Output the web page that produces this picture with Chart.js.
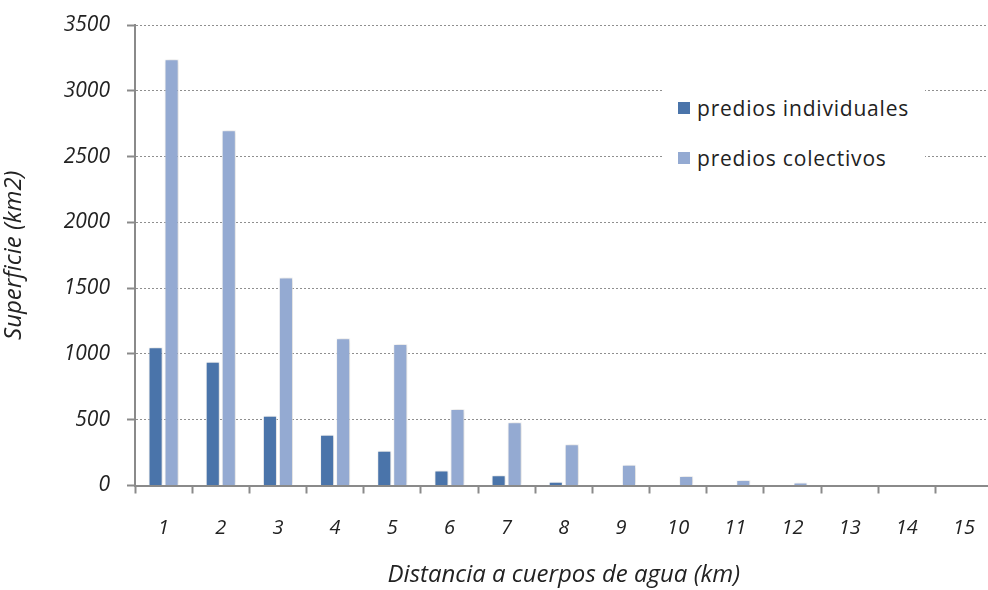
<!DOCTYPE html>
<html>
<head>
<meta charset="utf-8">
<script src="https://cdn.jsdelivr.net/npm/chart.js@4"></script>
<style>
    html, body { margin: 0; padding: 0; background: #fff; overflow: hidden; }
    #wrap { position: relative; width: 998px; height: 590px; }
    #legend {
        position: absolute; left: 663px; top: 84px; width: 262px; height: 102px;
        background: #fff; font-family: 'Open Sans', sans-serif; font-size: 21px; letter-spacing: 0.8px; color: #222;
    }
    .item { position: absolute; left: 15px; display: flex; align-items: center; white-space: nowrap; }
    .sw { width: 12px; height: 12px; margin-right: 7px; }
</style>
</head>
<body>
<div id="wrap">
    <canvas id="chart" width="998" height="590"></canvas>
    <div id="legend">
        <div class="item" style="top: 10px;"><span class="sw" style="background:#4a74aa"></span>predios individuales</div>
        <div class="item" style="top: 60px;"><span class="sw" style="background:#94aad2"></span>predios colectivos</div>
    </div>
</div>
<script>
// Distancia a cuerpos de agua (km) vs Superficie (km2)
const categories = ['1', '2', '3', '4', '5', '6', '7', '8', '9', '10', '11', '12', '13', '14', '15'];
const prediosIndividuales = [1050, 940, 530, 385, 265, 114, 78, 28, 0, 0, 0, 0, 0, 0, 0];
const prediosColectivos = [3240, 2700, 1580, 1120, 1075, 582, 481, 314, 158, 73, 42, 22, 3, 0, 0];
const yTicks = [0, 500, 1000, 1500, 2000, 2500, 3000, 3500];

const COLORS = {
    individual: '#4a74aa',
    colectivo: '#94aad2',
    axis: '#8a8a8a',
    grid: '#8f8f8f',
    text: '#222',
};

const FONT = "'Open Sans', sans-serif";

// soft shadow round the bars, as in the original
const barShadow = {
    id: 'barShadow',
    beforeDatasetsDraw(chart) {
        const c = chart.ctx;
        c.save();
        c.shadowColor = 'rgba(0, 0, 0, 0.18)';
        c.shadowBlur = 4;
        c.shadowOffsetX = 1;
        c.shadowOffsetY = 0;
    },
    afterDatasetsDraw(chart) {
        chart.ctx.restore();
    }
};

new Chart(document.getElementById('chart'), {
    type: 'bar',
    data: {
        labels: categories,
        datasets: [
            {
                label: 'predios individuales',
                data: prediosIndividuales,
                backgroundColor: COLORS.individual,
                borderColor: 'rgba(255,255,255,0.7)',
                borderWidth: 1,
                categoryPercentage: 0.56,
                barPercentage: 0.88,
            },
            {
                label: 'predios colectivos',
                data: prediosColectivos,
                backgroundColor: COLORS.colectivo,
                borderColor: 'rgba(255,255,255,0.7)',
                borderWidth: 1,
                categoryPercentage: 0.56,
                barPercentage: 0.88,
            }
        ]
    },
    plugins: [barShadow],
    options: {
        responsive: false,
        animation: false,
        layout: { padding: { top: 25, right: 0, left: 0, bottom: 0 } },
        plugins: {
            legend: { display: false },
            tooltip: { enabled: false },
        },
        scales: {
            x: {
                offset: true,
                grid: {
                    offset: true,
                    drawOnChartArea: false,
                    drawTicks: true,
                    tickLength: 8,
                    tickColor: COLORS.axis,
                    tickWidth: 2,
                },
                border: { color: COLORS.axis, width: 2 },
                ticks: {
                    padding: 23,
                    color: COLORS.text,
                    font: { family: FONT, size: 20, style: 'italic' },
                    maxRotation: 0,
                },
                title: {
                    display: true,
                    text: 'Distancia a cuerpos de agua (km)',
                    color: COLORS.text,
                    font: { family: FONT, size: 24, style: 'italic' },
                    padding: { top: 8, bottom: 0 },
                },
                afterFit: scale => { scale.height = 104.5; },
            },
            y: {
                min: 0,
                max: 3500,
                afterBuildTicks: scale => { scale.ticks = yTicks.map(v => ({ value: v })); },
                grid: {
                    color: COLORS.grid,
                    lineWidth: 1,
                    tickLength: 8,
                    tickColor: COLORS.axis,
                    tickWidth: 2,
                    tickBorderDash: [],
                },
                border: { color: COLORS.axis, width: 2, dash: [2, 2] },
                ticks: {
                    padding: 17,
                    color: COLORS.text,
                    font: { family: FONT, size: 21, style: 'italic' },
                    callback: v => String(v),
                },
                title: {
                    display: true,
                    text: 'Superficie (km2)',
                    color: COLORS.text,
                    font: { family: FONT, size: 24, style: 'italic' },
                    padding: { top: 0, bottom: 0 },
                },
                afterFit: scale => {
                    scale.width = 135;
                    // the tick padding should not push the plot down
                    scale.paddingTop = 13;
                    scale.paddingBottom = 13;
                },
            }
        }
    }
});
</script>
</body>
</html>
